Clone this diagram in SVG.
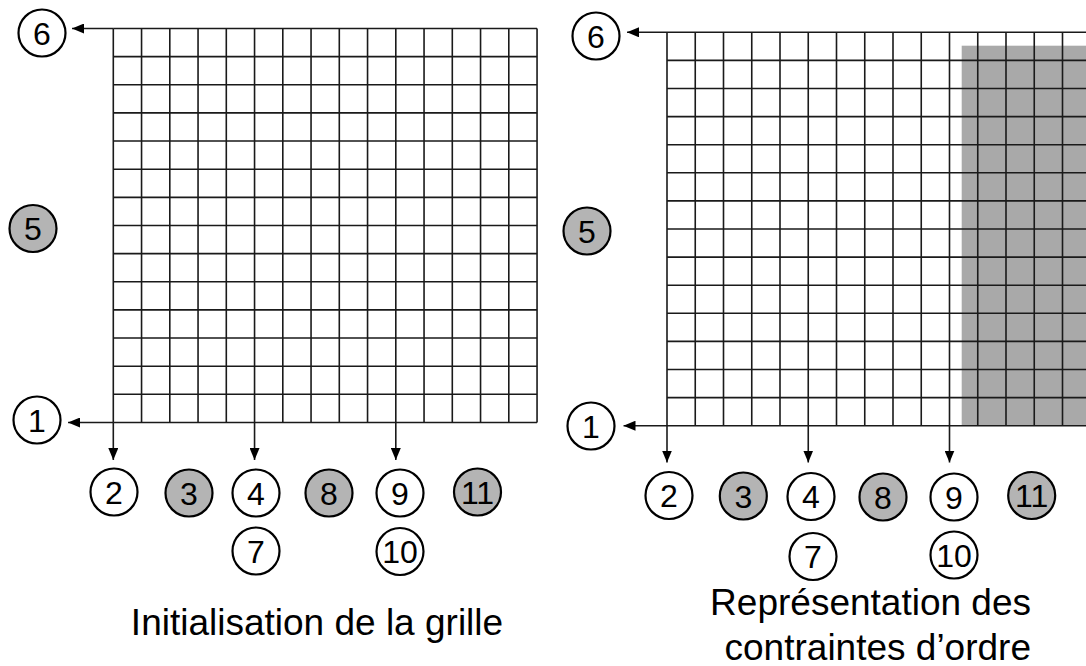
<svg xmlns="http://www.w3.org/2000/svg" width="1086" height="666" viewBox="0 0 1086 666">
<style>
.grid{stroke:#1a1a1a;stroke-width:1.6;fill:none}
.conn{stroke:#1a1a1a;stroke-width:1.6;fill:none}
.nw{fill:#ffffff;stroke:#000;stroke-width:2.2}
.ng{fill:#b4b4b4;stroke:#000;stroke-width:2.2}
.num{font-family:"Liberation Sans",Arial,sans-serif;font-size:32px;text-anchor:middle;fill:#000}
.cap{font-family:"Liberation Sans",Arial,sans-serif;font-size:37px;fill:#000}
</style>
<defs>
<marker id="ah" markerUnits="userSpaceOnUse" markerWidth="12" markerHeight="10" refX="12" refY="5" orient="auto">
<path d="M0,0 L12,5 L0,10 z" fill="#000"/>
</marker>
</defs>
<rect width="1086" height="666" fill="#ffffff"/>

<g id="grid-left" class="grid">
<path d="M113.3,28.5V422.5M141.55,28.5V422.5M169.8,28.5V422.5M198.05,28.5V422.5M226.3,28.5V422.5M254.55,28.5V422.5M282.8,28.5V422.5M311.05,28.5V422.5M339.3,28.5V422.5M367.55,28.5V422.5M395.8,28.5V422.5M424.05,28.5V422.5M452.3,28.5V422.5M480.55,28.5V422.5M508.8,28.5V422.5M537.05,28.5V422.5"/>
<path d="M113.3,28.5H537.05M113.3,56.64H537.05M113.3,84.78H537.05M113.3,112.92H537.05M113.3,141.06H537.05M113.3,169.2H537.05M113.3,197.34H537.05M113.3,225.48H537.05M113.3,253.62H537.05M113.3,281.76H537.05M113.3,309.9H537.05M113.3,338.04H537.05M113.3,366.18H537.05M113.3,394.32H537.05M113.3,422.5H537.05"/>
</g>

<g id="grid-right">
<rect x="961.7" y="45.7" width="125" height="380" fill="#a9a9a9"/>
<g class="grid">
<path d="M667,32.3V425.7M695.25,32.3V425.7M723.5,32.3V425.7M751.75,32.3V425.7M780,32.3V425.7M808.25,32.3V425.7M836.5,32.3V425.7M864.75,32.3V425.7M893,32.3V425.7M921.25,32.3V425.7M949.5,32.3V425.7M977.75,32.3V425.7M1006,32.3V425.7M1034.25,32.3V425.7M1062.5,32.3V425.7"/>
<path d="M667,32.3H1086M667,60.4H1086M667,88.5H1086M667,116.6H1086M667,144.7H1086M667,172.8H1086M667,200.9H1086M667,229H1086M667,257.1H1086M667,285.2H1086M667,313.3H1086M667,341.4H1086M667,369.5H1086M667,397.6H1086M667,425.7H1086"/>
</g>
</g>

<g id="connectors" class="conn">
<line x1="113.3" y1="28.5" x2="72" y2="28.5" marker-end="url(#ah)"/>
<line x1="113.3" y1="422.5" x2="68" y2="422.5" marker-end="url(#ah)"/>
<line x1="113.3" y1="422.5" x2="113.3" y2="460" marker-end="url(#ah)"/>
<line x1="254.55" y1="422.5" x2="254.55" y2="460" marker-end="url(#ah)"/>
<line x1="395.8" y1="422.5" x2="395.8" y2="460" marker-end="url(#ah)"/>
<line x1="667" y1="32.3" x2="627" y2="32.3" marker-end="url(#ah)"/>
<line x1="667" y1="425.7" x2="623.5" y2="425.7" marker-end="url(#ah)"/>
<line x1="667" y1="425.7" x2="667" y2="462.5" marker-end="url(#ah)"/>
<line x1="808.25" y1="425.7" x2="808.25" y2="462.5" marker-end="url(#ah)"/>
<line x1="949.5" y1="425.7" x2="949.5" y2="462.5" marker-end="url(#ah)"/>
</g>

<g id="L6"><circle class="nw" cx="42" cy="33" r="23.5"/><text class="num" x="42" y="44.5">6</text></g>
<g id="L5"><circle class="ng" cx="33" cy="228.5" r="23.5"/><text class="num" x="33" y="240">5</text></g>
<g id="L1"><circle class="nw" cx="37" cy="420" r="23.5"/><text class="num" x="37" y="431.5">1</text></g>
<g id="L2"><circle class="nw" cx="114" cy="492" r="23.5"/><text class="num" x="114" y="503.5">2</text></g>
<g id="L3"><circle class="ng" cx="189" cy="493" r="23.5"/><text class="num" x="189" y="504.5">3</text></g>
<g id="L4"><circle class="nw" cx="256" cy="493" r="23.5"/><text class="num" x="256" y="504.5">4</text></g>
<g id="L8"><circle class="ng" cx="329" cy="493" r="23.5"/><text class="num" x="329" y="504.5">8</text></g>
<g id="L9"><circle class="nw" cx="400" cy="493" r="23.5"/><text class="num" x="400" y="504.5">9</text></g>
<g id="L11"><circle class="ng" cx="477.5" cy="492" r="23.5"/><text class="num" x="477.5" y="503.5">11</text></g>
<g id="L7"><circle class="nw" cx="256" cy="551" r="23.5"/><text class="num" x="256" y="562.5">7</text></g>
<g id="L10"><circle class="nw" cx="400" cy="551.5" r="23.5"/><text class="num" x="400" y="563">10</text></g>

<g id="R6"><circle class="nw" cx="596" cy="36" r="23.5"/><text class="num" x="596" y="47.5">6</text></g>
<g id="R5"><circle class="ng" cx="587" cy="231" r="23.5"/><text class="num" x="587" y="242.5">5</text></g>
<g id="R1"><circle class="nw" cx="591" cy="426" r="23.5"/><text class="num" x="591" y="437.5">1</text></g>
<g id="R2"><circle class="nw" cx="669" cy="495.5" r="23.5"/><text class="num" x="669" y="507">2</text></g>
<g id="R3"><circle class="ng" cx="743.3" cy="496" r="23.5"/><text class="num" x="743.3" y="507.5">3</text></g>
<g id="R4"><circle class="nw" cx="811" cy="496.5" r="23.5"/><text class="num" x="811" y="508">4</text></g>
<g id="R8"><circle class="ng" cx="883" cy="497" r="23.5"/><text class="num" x="883" y="508.5">8</text></g>
<g id="R9"><circle class="nw" cx="954" cy="497" r="23.5"/><text class="num" x="954" y="508.5">9</text></g>
<g id="R11"><circle class="ng" cx="1031.7" cy="495.5" r="23.5"/><text class="num" x="1031.7" y="507">11</text></g>
<g id="R7"><circle class="nw" cx="813" cy="556.5" r="23.5"/><text class="num" x="813" y="568">7</text></g>
<g id="R10"><circle class="nw" cx="954" cy="555" r="23.5"/><text class="num" x="954" y="566.5">10</text></g>

<g id="captions">
<text class="cap" x="317" y="635" text-anchor="middle">Initialisation de la grille</text>
<text class="cap" x="1031" y="615" text-anchor="end">Représentation des</text>
<text class="cap" x="1031" y="660" text-anchor="end">contraintes d’ordre</text>
</g>
</svg>
